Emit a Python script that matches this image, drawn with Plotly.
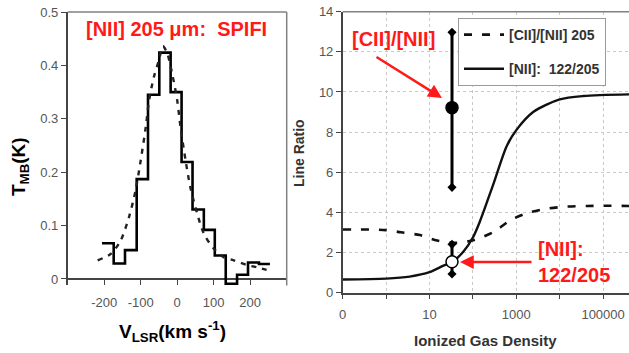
import plotly.graph_objects as go

W, H = 629, 353

# ---------------- Left panel data: [NII] 205 um SPIFI spectrum ----------------
vel_edges = [-206, -174, -143, -111, -80, -49, -18, 12, 42, 73, 103, 133, 164, 194, 224, 254]
t_mb = [0.067, 0.029, 0.054, 0.187, 0.345, 0.424, 0.350, 0.219, 0.130, 0.092, 0.044,
        -0.009, 0.008, 0.031, 0.028]

fit_vel = [-218, -182, -155, -132, -114, -100, -86, -77, -64, -50, -39, -27, -14, 0, 9,
           23, 36, 55, 73, 100, 127, 155, 191, 218, 245]
fit_t = [0.035, 0.047, 0.072, 0.116, 0.166, 0.222, 0.285, 0.335, 0.378, 0.410, 0.436,
         0.422, 0.385, 0.335, 0.285, 0.222, 0.172, 0.122, 0.085, 0.057, 0.041, 0.035,
         0.026, 0.022, 0.017]

left_yticks = [0, 0.1, 0.2, 0.3, 0.4, 0.5]
left_yticktext = ["0", "0.1", "0.2", "0.3", "0.4", "0.5"]
left_xticks = [-300, -200, -100, 0, 100, 200, 300]
left_xticktext = [" ", "-200", "-100", "0", "100", "200", " "]

# ---------------- Right panel data: line ratios vs density ----------------
nii_density = [0.1, 1, 3.5, 10, 21, 34, 60, 100, 145, 295, 600, 1000, 2450, 10000, 35000, 400000]
nii_ratio = [0.66, 0.70, 0.80, 1.02, 1.35, 1.54, 2.04, 2.75, 3.55, 5.4, 7.3, 8.1, 9.0, 9.63,
             9.8, 9.88]

cii_density = [0.1, 1, 2.2, 6, 15, 40, 107, 310, 740, 1950, 5600, 15000, 42000, 120000, 400000]
cii_ratio = [3.15, 3.12, 3.01, 2.87, 2.60, 2.48, 2.63, 3.04, 3.62, 3.99, 4.20, 4.29, 4.32,
             4.33, 4.32]

obs_density = 33
obs_cii = 9.22
obs_cii_lo, obs_cii_hi = 5.25, 12.97
obs_nii = 1.54
obs_nii_lo, obs_nii_hi = 0.93, 2.41

right_xticks = [0.1, 1, 10, 100, 1000, 1e4, 1e5, 1e6]
right_xticktext = ["0", " ", "10", " ", "1000", " ", "100000", " "]
right_yticks = [0, 2, 4, 6, 8, 10, 12, 14]

# ---------------- geometry (pixels) ----------------
L_x0, L_x1 = 67.7, 286.7
L_ytop, L_ybot = 12.0, 285.4
R_x0, R_x1 = 342.7, 629.0
R_ytop, R_ybot = 11.7, 292.7


def px(x):
    return x / W


def py(y):
    return 1 - y / H


tick_font = dict(family="Liberation Sans, Arial, sans-serif", size=13, color="#555555")
title_font = "Liberation Sans, Arial, sans-serif"

fig = go.Figure()

# left: step spectrum
fig.add_trace(go.Scatter(
    x=vel_edges, y=t_mb + [t_mb[-1]], mode="lines", line=dict(shape="hv", color="black", width=2.6),
    xaxis="x", yaxis="y", showlegend=False, hoverinfo="skip"))
fig.add_trace(go.Scatter(
    x=fit_vel, y=fit_t, mode="lines", line=dict(shape="spline", smoothing=0.8, color="#222222",
                                                width=2.4, dash="5px,6px"),
    xaxis="x", yaxis="y", showlegend=False, hoverinfo="skip"))

# right: model curves
fig.add_trace(go.Scatter(
    x=cii_density, y=cii_ratio, mode="lines", name="[CII]/[NII] 205",
    line=dict(shape="spline", smoothing=0.8, color="#111111", width=2.6, dash="8px,10px"),
    xaxis="x2", yaxis="y2", legendgroup="a", hoverinfo="skip"))
fig.add_trace(go.Scatter(
    x=nii_density, y=nii_ratio, mode="lines", name="[NII]:  122/205",
    line=dict(shape="spline", smoothing=0.8, color="#111111", width=2.4),
    xaxis="x2", yaxis="y2", legendgroup="b", hoverinfo="skip"))

# observed points with error bars
for val, lo, hi, fill in [(obs_cii, obs_cii_lo, obs_cii_hi, "black"),
                          (obs_nii, obs_nii_lo, obs_nii_hi, "white")]:
    fig.add_trace(go.Scatter(
        x=[obs_density, obs_density], y=[lo, hi], mode="lines+markers",
        line=dict(color="black", width=3),
        marker=dict(symbol="diamond", size=7, color="black"),
        xaxis="x2", yaxis="y2", showlegend=False, hoverinfo="skip"))
    fig.add_trace(go.Scatter(
        x=[obs_density], y=[val], mode="markers",
        marker=dict(symbol="circle", size=12, color=fill, line=dict(color="black", width=1.5)),
        xaxis="x2", yaxis="y2", showlegend=False, hoverinfo="skip"))

axis_dark = "#444444"

fig.update_layout(
    width=W, height=H,
    margin=dict(l=0, r=0, t=0, b=0, autoexpand=False),
    paper_bgcolor="white", plot_bgcolor="white",
    showlegend=True,
    legend=dict(x=px(458), y=py(18), xanchor="left", yanchor="top",
                bgcolor="white", bordercolor="#9a9a9a", borderwidth=1,
                font=dict(family=title_font, size=14, color="#333333", weight="bold"),
                tracegroupgap=13, itemwidth=40),
    xaxis=dict(domain=[px(L_x0), px(L_x1)], range=[-300, 300], anchor="y", automargin=False,
               tickvals=left_xticks, ticktext=left_xticktext, ticks="inside", ticklen=5,
               tickcolor=axis_dark, tickwidth=1, showline=False, showgrid=False,
               zeroline=False, tickfont=tick_font, ticklabelstandoff=8),
    yaxis=dict(domain=[py(L_ybot), py(L_ytop)], range=[-0.012, 0.5], anchor="x", automargin=False,
               tickvals=left_yticks, ticktext=left_yticktext, ticks="outside", ticklen=5,
               tickcolor=axis_dark, showline=True, linecolor=axis_dark, linewidth=1.5,
               showgrid=False, zeroline=True, zerolinecolor=axis_dark, zerolinewidth=1.5,
               tickfont=tick_font),
    xaxis2=dict(domain=[px(R_x0), 1.0], type="log", range=[-1, -1 + (R_x1 - R_x0) / 43.4],
                anchor="y2", automargin=False, tickvals=right_xticks, ticktext=right_xticktext,
                ticks="outside", ticklen=5, tickcolor=axis_dark, showline=True,
                linecolor=axis_dark, linewidth=1.5, showgrid=True, gridcolor="#c8c8c8",
                griddash="dot", gridwidth=1, zeroline=False, tickfont=tick_font,
                ticklabelstandoff=4),
    yaxis2=dict(domain=[py(R_ybot), py(R_ytop)], range=[0, 14], anchor="x2", automargin=False,
                tickvals=right_yticks, ticks="outside", ticklen=5, tickcolor=axis_dark,
                showline=True, linecolor=axis_dark, linewidth=1.5, showgrid=True,
                gridcolor="#c8c8c8", griddash="dot", gridwidth=1, zeroline=False,
                tickfont=tick_font),
)

# frame lines (top/right of left panel, top of right panel)
fig.add_shape(type="line", xref="x domain", yref="y domain", x0=0, x1=1, y0=1, y1=1,
              line=dict(color="#808080", width=1.5))
fig.add_shape(type="line", xref="x domain", yref="y domain", x0=1, x1=1, y0=0, y1=1,
              line=dict(color="#808080", width=1.5))
fig.add_shape(type="line", xref="x2 domain", yref="y2 domain", x0=0, x1=1, y0=1, y1=1,
              line=dict(color="#808080", width=1.5))

red = "#ff1a1a"
annots = [
    dict(text="[NII] 205 \u03bcm:  SPIFI", x=px(176), y=py(29), font=dict(size=20, color=red,
         family=title_font, weight="bold")),
    dict(text="T<sub>MB</sub>(K)", x=px(20), y=py(167), textangle=-90,
         font=dict(size=19, color="black", family=title_font, weight="bold")),
    dict(text="V<sub>LSR</sub>(km s<sup>-1</sup>)", x=px(172), y=py(331),
         font=dict(size=19, color="black", family=title_font, weight="bold")),
    dict(text="Line Ratio", x=px(299), y=py(153), textangle=-90,
         font=dict(size=14, color="#333333", family=title_font, weight="bold")),
    dict(text="Ionized Gas Density", x=px(485), y=py(340),
         font=dict(size=15, color="#333333", family=title_font, weight="bold")),
    dict(text="[CII]/[NII]", x=px(393), y=py(39),
         font=dict(size=20, color=red, family=title_font, weight="bold")),
    dict(text="[NII]:<br>122/205", x=px(574), y=py(262), align="left",
         font=dict(size=20, color=red, family=title_font, weight="bold")),
]
for a in annots:
    fig.add_annotation(xref="paper", yref="paper", showarrow=False, xanchor="center",
                       yanchor="middle", **a)

# arrows
fig.add_annotation(xref="paper", yref="paper", x=px(442), y=py(98), ax=375 - 442, ay=56 - 98,
                   text="", showarrow=True, arrowhead=2, arrowsize=1.1, arrowwidth=2.5,
                   arrowcolor=red)
fig.add_annotation(xref="paper", yref="paper", x=px(460), y=py(262), ax=533 - 460, ay=0,
                   text="", showarrow=True, arrowhead=2, arrowsize=1.1, arrowwidth=2.5,
                   arrowcolor=red)

fig.write_html("out.html", config={"displayModeBar": False},
               post_script="document.body.style.margin='0';document.body.style.overflow='hidden';")
